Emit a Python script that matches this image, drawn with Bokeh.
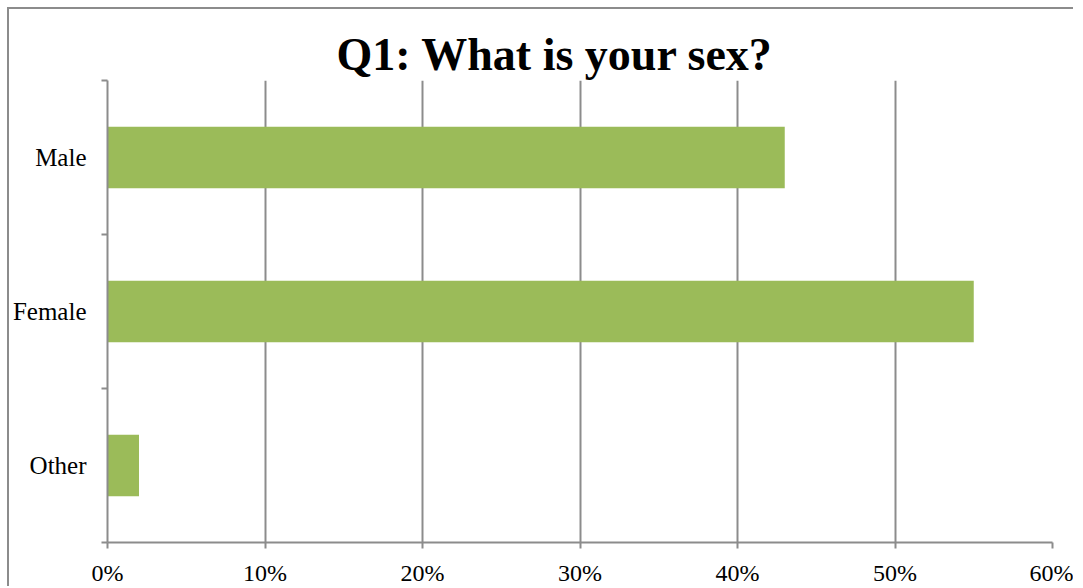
from bokeh.plotting import figure
from bokeh.models import FixedTicker, NumeralTickFormatter, ColumnDataSource, Range1d
from bokeh.embed import file_html
from bokeh.resources import INLINE

categories = ["Male", "Female", "Other"]
values = [0.43, 0.55, 0.02]
x_ticks = [0, 0.1, 0.2, 0.3, 0.4, 0.5, 0.6]

n = len(categories)
ypos = [n - i - 0.5 for i in range(n)]
src = ColumnDataSource(dict(y=ypos, v=values, cat=categories))

FONT = "Liberation Serif"
GRAY = "#8c8c8c"
SHIFT = 9  # outer chart-area border offset (7px margin + 2px line)

p = figure(width=1066, height=579, output_backend="svg", toolbar_location=None,
           x_range=Range1d(0, 0.6), y_range=Range1d(0, n),
           min_border_left=98, min_border_right=23, min_border_top=71,
           min_border_bottom=46)
p.margin = (7, 0, 0, 7)
p.styles = {"border-left": "2px solid #8c8c8c", "border-top": "2px solid #8c8c8c"}
p.outline_line_color = None
p.background_fill_color = "white"
p.border_fill_color = "white"

p.hbar(y="y", right="v", left=0, height=0.4, source=src, fill_color="#9BBB59", line_color=None)

p.title.text = "Q1: What is your sex?"
p.title.text_font = FONT
p.title.text_font_size = "46px"
p.title.text_font_style = "bold"
p.title.text_color = "black"
p.title.align = "left"
p.title.offset = 229
p.title.standoff = 2

# x axis
xa = p.xaxis[0]
xa.ticker = FixedTicker(ticks=x_ticks, minor_ticks=[])
xa.formatter = NumeralTickFormatter(format="0%")
xa.major_tick_in = 0
xa.major_tick_out = 6
xa.minor_tick_out = 0
xa.minor_tick_in = 0
xa.axis_line_color = GRAY
xa.axis_line_width = 2
xa.major_tick_line_color = GRAY
xa.major_tick_line_width = 2
xa.major_label_text_font = FONT
xa.major_label_text_font_size = "24px"
xa.major_label_text_color = "black"
xa.major_label_standoff = 11

# y axis
ya = p.yaxis[0]
ya.ticker = FixedTicker(ticks=ypos, minor_ticks=list(range(n + 1)))
ya.major_label_overrides = {y: c for y, c in zip(ypos, categories)}
ya.major_tick_in = 0
ya.major_tick_out = 0
ya.minor_tick_in = 0
ya.minor_tick_out = 6
ya.minor_tick_line_color = GRAY
ya.minor_tick_line_width = 2
ya.axis_line_color = GRAY
ya.axis_line_width = 2
ya.major_label_text_font = FONT
ya.major_label_text_font_size = "25px"
ya.major_label_text_color = "black"
ya.major_label_standoff = 15

p.xgrid.ticker = FixedTicker(ticks=x_ticks)
p.xgrid.grid_line_color = GRAY
p.xgrid.grid_line_width = 2
p.ygrid.grid_line_color = None

open("out.html", "w").write(file_html(p, INLINE))
